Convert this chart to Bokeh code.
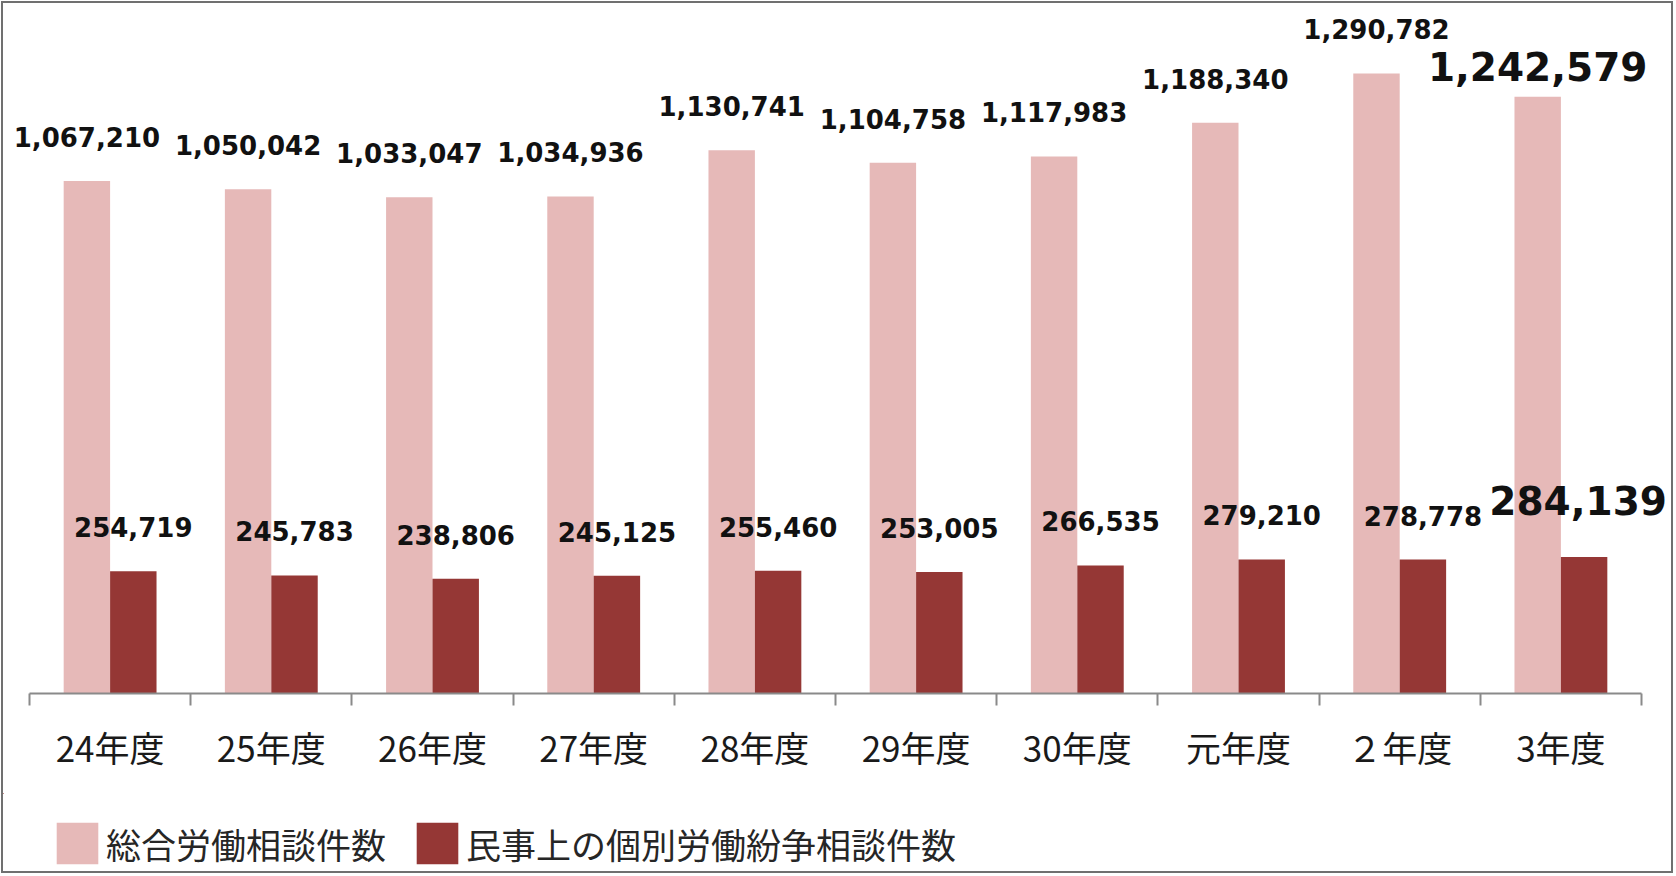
from bokeh.plotting import figure
from bokeh.layouts import column
from bokeh.models import (ColumnDataSource, Range1d, FixedTicker, Legend, LegendItem)
from bokeh.core.properties import value
from bokeh.embed import file_html
from bokeh.resources import INLINE

# ---- data ----
categories = ["24年度", "25年度", "26年度", "27年度", "28年度",
              "29年度", "30年度", "元年度", "２年度", "3年度"]
total_consult = [1067210, 1050042, 1033047, 1034936, 1130741,
                 1104758, 1117983, 1188340, 1290782, 1242579]
civil_dispute = [254719, 245783, 238806, 245125, 255460,
                 253005, 266535, 279210, 278778, 284139]
series_names = ["総合労働相談件数", "民事上の個別労働紛争相談件数"]

# ---- styles / layout ----
PINK = "#E6B9B8"
DARK = "#953735"
AXIS_GRAY = "#8a8a8a"
BAR_W = 0.288
n = len(categories)

W = 1668
FRAME_H = 685
TOP_B = 5
BOTTOM_B = 100
LEG_H = 78
AX_LEFT_PX = 26      # pixel position of the first category boundary
AX_RIGHT_PX = 1638   # pixel position of the last category boundary
unit = (AX_RIGHT_PX - AX_LEFT_PX) / n
x_start = -AX_LEFT_PX / unit
x_end = n + (W - AX_RIGHT_PX) / unit
Y_END = 1426100

idx = list(range(n))
pink_x = [i + 0.5 - BAR_W / 2 for i in idx]
dark_x = [i + 0.5 + BAR_W / 2 for i in idx]

def fmt(v):
    return f"{v:,}"

# label styles (last year emphasised)
pink_size = ["26px"] * (n - 1) + ["39px"]
pink_yoff = [-44] * (n - 1) + [-30]
pink_xoff = [0] * n
dark_size = ["26px"] * (n - 1) + ["39px"]
dark_yoff = [-44] * (n - 1) + [-57]
dark_xoff = [0] * (n - 1) + [-6]

src_p = ColumnDataSource(dict(x=pink_x, top=total_consult,
                              label=[fmt(v) for v in total_consult],
                              size=pink_size, yoff=pink_yoff, xoff=pink_xoff))
src_d = ColumnDataSource(dict(x=dark_x, top=civil_dispute,
                              label=[fmt(v) for v in civil_dispute],
                              size=dark_size, yoff=dark_yoff, xoff=dark_xoff))

p = figure(width=W, height=TOP_B + FRAME_H + BOTTOM_B,
           output_backend="svg", toolbar_location=None,
           x_range=Range1d(x_start, x_end), y_range=Range1d(0, Y_END),
           y_axis_location=None, min_border_left=0, min_border_right=0,
           min_border_top=TOP_B, min_border_bottom=BOTTOM_B)
p.outline_line_color = None
p.xgrid.visible = False
p.ygrid.visible = False

r1 = p.vbar(x="x", top="top", width=BAR_W, bottom=0, source=src_p,
            fill_color=PINK, line_color=None)
r2 = p.vbar(x="x", top="top", width=BAR_W, bottom=0, source=src_d,
            fill_color=DARK, line_color=None)

for src in (src_p, src_d):
    p.text(x="x", y="top", text="label", source=src,
           text_font=value("DejaVu Sans"), text_font_style="bold",
           text_font_size="size", x_offset="xoff", y_offset="yoff",
           text_align="center", text_baseline="middle", text_color="#111111")

ax = p.xaxis[0]
ax.bounds = (0, n)
ax.ticker = FixedTicker(ticks=[i + 0.5 for i in idx], minor_ticks=list(range(n + 1)))
ax.major_label_overrides = {i + 0.5: c for i, c in zip(idx, categories)}
ax.major_tick_out = 0
ax.major_tick_in = 0
ax.major_tick_line_color = None
ax.minor_tick_out = 12
ax.minor_tick_in = 0
ax.minor_tick_line_color = AXIS_GRAY
ax.minor_tick_line_width = 2
ax.axis_line_color = AXIS_GRAY
ax.axis_line_width = 2
ax.major_label_text_font = "Noto Sans CJK JP"
ax.major_label_text_font_size = "35px"
ax.major_label_text_color = "#1a1a1a"
ax.major_label_standoff = 15

# ---- legend strip (same series, shown only through the legend) ----
pl = figure(width=W, height=LEG_H, output_backend="svg", toolbar_location=None,
            x_range=Range1d(100, 101), y_range=Range1d(-2, -1),
            x_axis_location=None, y_axis_location=None,
            min_border_left=0, min_border_right=0, min_border_top=0, min_border_bottom=0)
pl.outline_line_color = None
pl.xgrid.visible = False
pl.ygrid.visible = False
l1 = pl.vbar(x="x", top="top", width=BAR_W, bottom=0, source=src_p,
             fill_color=PINK, line_color=None)
l2 = pl.vbar(x="x", top="top", width=BAR_W, bottom=0, source=src_d,
             fill_color=DARK, line_color=None)

legend = Legend(items=[LegendItem(label=series_names[0], renderers=[l1]),
                       LegendItem(label=series_names[1], renderers=[l2])],
                orientation="horizontal", location=(48, 2),
                glyph_width=52, glyph_height=52, label_standoff=3, spacing=25,
                label_height=52,
                padding=0, margin=0, border_line_color=None,
                background_fill_alpha=0,
                label_text_font="Noto Sans CJK JP", label_text_font_size="35px",
                label_text_color="#262626", label_text_baseline="middle")
pl.add_layout(legend)

lay = column(p, pl, spacing=0)
lay.styles = {"border": "2px solid #707070", "margin": "1px 0 0 1px",
              "background-color": "white"}

open("out.html", "w").write(file_html(lay, INLINE))
